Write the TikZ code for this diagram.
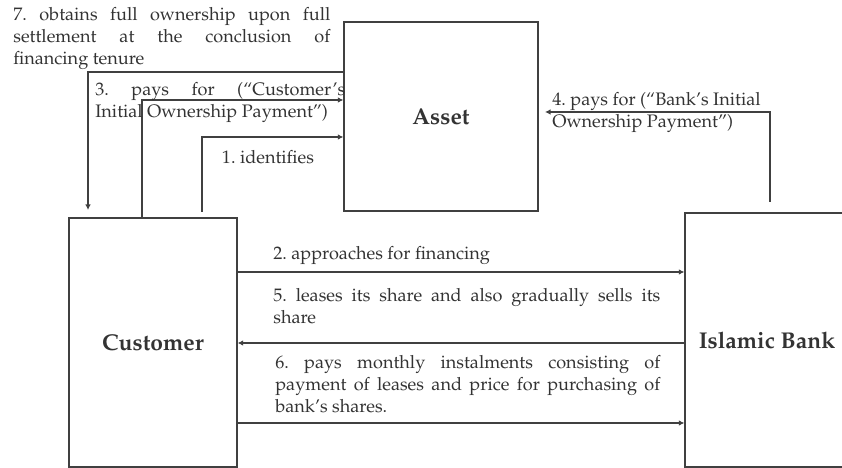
\documentclass[tikz,border=0pt]{standalone}
\usepackage[T1]{fontenc}
\usepackage{mathpazo}
\usetikzlibrary{arrows.meta}
\frenchspacing

\begin{document}
\begin{tikzpicture}[
		every node/.style={inner sep=0pt, text=black!80, font=\fontsize{10.3}{12.6}\selectfont},
		box/.style={rectangle, draw=black!75, line width=0.7pt, font=\fontsize{13}{15}\selectfont\bfseries},
		flow/.style={draw=black!75, line width=0.6pt, -{Latex[length=1.1mm, width=1.1mm]}},
		note/.style={anchor=north west, align=justify}
	]
  \useasboundingbox (0cm, 0cm) rectangle (16.84cm, 9.36cm);
  % the three parties
  \node (asset) [box, minimum width=3.88cm, minimum height=3.78cm] at (8.82cm, 7.03cm) {Asset};
  \node (cust) [box, minimum width=3.36cm, minimum height=4.98cm] at (3.06cm, 2.51cm) {Customer};
  \node (bank) [box, minimum width=3.28cm, minimum height=5.08cm] at (15.34cm, 2.56cm) {Islamic Bank};
  % bend points
  \coordinate (k7) at (1.76cm, 7.92cm);
  \coordinate (e7) at (1.76cm, 5.16cm);
  \coordinate (k3) at (2.84cm, 7.36cm);
  \coordinate (s1) at (4.04cm, 5.12cm);
  \coordinate (k1) at (4.04cm, 6.62cm);
  \coordinate (s4) at (15.40cm, 5.32cm);
  \coordinate (k4) at (15.40cm, 7.12cm);
  \coordinate (e4) at (10.90cm, 7.12cm);
  \coordinate (r2) at (0cm, 3.92cm);
  \coordinate (r5) at (0cm, 2.50cm);
  \coordinate (r6) at (0cm, 0.90cm);
  % flows
  \draw [flow] (s1) -- (k1) -- (asset.west |- k1);
  \draw [flow] (cust.east |- r2) -- (bank.west |- r2);
  \draw [flow] (cust.north -| k3) -- (k3) -- (asset.west |- k3);
  \draw [flow] (s4) -- (k4) -- (e4);
  \draw [flow] (bank.west |- r5) -- (cust.east |- r5);
  \draw [flow] (cust.east |- r6) -- (bank.west |- r6);
  \draw [flow] (asset.west |- k7) -- (k7) -- (e7);
  % labels
  \node (l7) [note, text width=6.34cm] at (0.26cm, 9.22cm)
    {7. obtains full ownership upon full\linebreak settlement at the conclusion of\linebreak financing tenure};
  \node (l3) [note, text width=5.0cm] at (1.90cm, 7.72cm)
    {3. pays for (``Customer's\linebreak Initial Ownership Payment'')};
  \node (l1) at (5.36cm, 6.22cm) {1. identifies};
  \node (l4) [anchor=north west, align=left] at (11.04cm, 7.52cm)
    {4. pays for (``Bank's Initial\\ Ownership Payment'')};
  \node (l2) [anchor=west] at (5.46cm, 4.25cm) {2. approaches for financing};
  \node (l5) [note, text width=7.74cm] at (5.46cm, 3.60cm)
    {5. leases its share and also gradually sells its\linebreak share};
  \node (l6) [note, text width=7.70cm] at (5.50cm, 2.26cm)
    {6. pays monthly instalments consisting of\linebreak payment of leases and price for purchasing of\linebreak bank's shares.};
\end{tikzpicture}
\end{document}
